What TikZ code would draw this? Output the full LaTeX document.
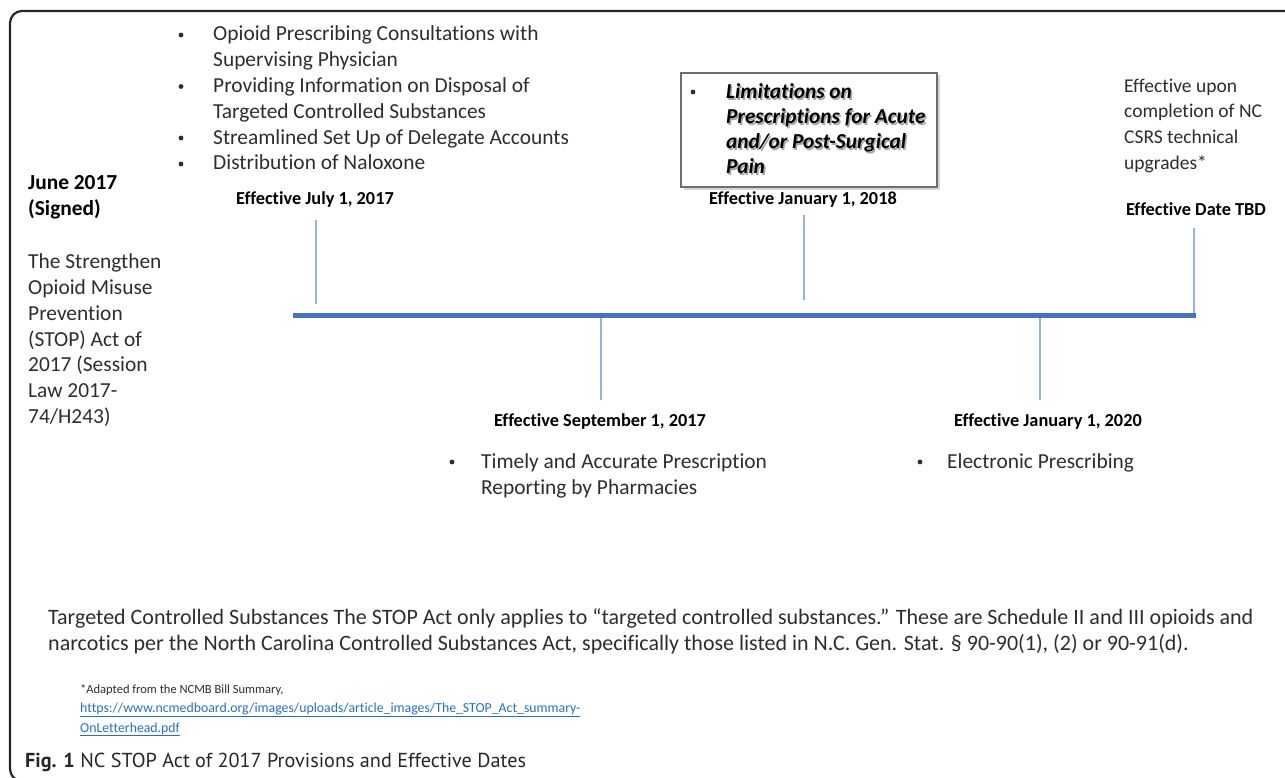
\documentclass[tikz,border=0pt]{standalone}
\usepackage{fontspec}
\setmainfont{Carlito}[Ligatures=NoCommon]
\newfontfamily\capfont{PT Sans}
\usetikzlibrary{positioning}
\definecolor{barblue}{RGB}{68,114,196}
\definecolor{tickblue}{RGB}{150,178,225}
\definecolor{txtgray}{RGB}{45,45,45}
\definecolor{linkblue}{RGB}{40,110,200}
\definecolor{shade}{RGB}{165,165,165}
\definecolor{boxgray}{RGB}{110,110,110}
\tikzset{
  body/.style={font=\fontsize{21.4}{25.8}\selectfont,text=txtgray,inner sep=0pt,align=left,anchor=base west},
  datelbl/.style={font=\bfseries\fontsize{18.3}{22}\selectfont,inner sep=0pt,anchor=base},
  bar/.style={barblue,line width=5pt},
  tick/.style={tickblue,line width=1.4pt},
  bullet/.style={fill=txtgray},
  limtext/.style={body,font=\bfseries\itshape\fontsize{21.3}{25}\selectfont},
}
\begin{document}
\begin{tikzpicture}[x=1pt,y=-1pt]
\useasboundingbox (0,0) rectangle (1285,778);
\draw[line width=2.2pt,black!85,rounded corners=12pt] (1300,11)--(10,11)--(10,781)--(40,781);

\node[datelbl] (d1) at (315,205) {Effective July 1, 2017};
\node[datelbl] (d2) at (600,426) {Effective September 1, 2017};
\node[datelbl] (d3) at (803,205) {Effective January 1, 2018};
\node[datelbl] (d4) at (1048,426) {Effective January 1, 2020};
\node[datelbl] (d5) at (1196,215) {Effective Date TBD};

\coordinate (s) at (293,315);
\coordinate (e) at (1196,315);
\coordinate (t1) at (316,220);
\coordinate (u1) at (316,304);
\coordinate (t2) at (601,318);
\coordinate (u2) at (601,400);
\coordinate (t3) at (804,215);
\coordinate (u3) at (804,300);
\coordinate (t4) at (1040,318);
\coordinate (u4) at (1040,400);
\coordinate (t5) at (1194,228);
\coordinate (u5) at (1194,315);
\draw[tick] (t1)--(u1) (t2)--(u2) (t3)--(u3) (t4)--(u4) (t5)--(u5);
\draw[bar] (s)--(e);

\node[body] (acts) at (213,170) {Opioid Prescribing Consultations with\\Supervising Physician\\Providing Information on Disposal of\\Targeted Controlled Substances\\Streamlined Set Up of Delegate Accounts\\Distribution of Naloxone};
\path[bullet] (181,35) circle (2.4pt) (181,86.5) circle (2.4pt) (181,138) circle (2.4pt) (181,164) circle (2.4pt);

\node[body,font=\bfseries\fontsize{21.4}{25.8}\selectfont,text=black] (signed) at (28,215.5) {June 2017\\(Signed)};
\node[body] (act) at (28,423.5) {The Strengthen\\Opioid Misuse\\Prevention\\(STOP) Act of\\2017 (Session\\Law 2017-\\74/H243)};

\fill[shade!45] (683.5,75.5) rectangle (940,190);
\draw[boxgray,line width=1.3pt,fill=white] (681,73) rectangle (937,187);
\path[bullet] (693,92) circle (2.4pt);
\node[limtext,text=shade] (limshadow) at (727.5,175.5) {Limitations on\\Prescriptions for Acute\\and/or Post-Surgical\\Pain};
\node[limtext,text=black] (limits) at (726,174) {Limitations on\\Prescriptions for Acute\\and/or Post-Surgical\\Pain};

\node[body,font=\fontsize{19.5}{25.8}\selectfont] (upon) at (1124,169.5) {Effective upon\\completion of NC\\CSRS technical\\upgrades*};

\node[body] (timely) at (481,494) {Timely and Accurate Prescription\\Reporting by Pharmacies};
\path[bullet] (452,462) circle (2.4pt);
\node[body] (erx) at (947,468) {Electronic Prescribing};
\path[bullet] (920,462) circle (2.4pt);

\node[body,font=\fontsize{22}{26}\selectfont] (note) at (48,650) {Targeted Controlled Substances The STOP Act only applies to “targeted controlled substances.” These are Schedule II and III opioids and\\narcotics per the North Carolina Controlled Substances Act, specifically those listed in N.C. Gen. Stat. § 90-90(1), (2) or 90-91(d).};

\node[body,font=\fontsize{13.8}{19.5}\selectfont] (src) at (80,732) {{\fontsize{12.5}{19.5}\selectfont *Adapted from the NCMB Bill Summary,}\\\textcolor{linkblue}{\underline{https://www.ncmedboard.org/images/uploads/article\_images/The\_STOP\_Act\_summary-}}\\\textcolor{linkblue}{\underline{OnLetterhead.pdf}}};

\node[body,font=\capfont\fontsize{20.2}{24}\selectfont,text=black!85] (cap) at (25,767) {\textbf{Fig. 1} NC STOP Act of 2017 Provisions and Effective Dates};
\end{tikzpicture}
\end{document}
